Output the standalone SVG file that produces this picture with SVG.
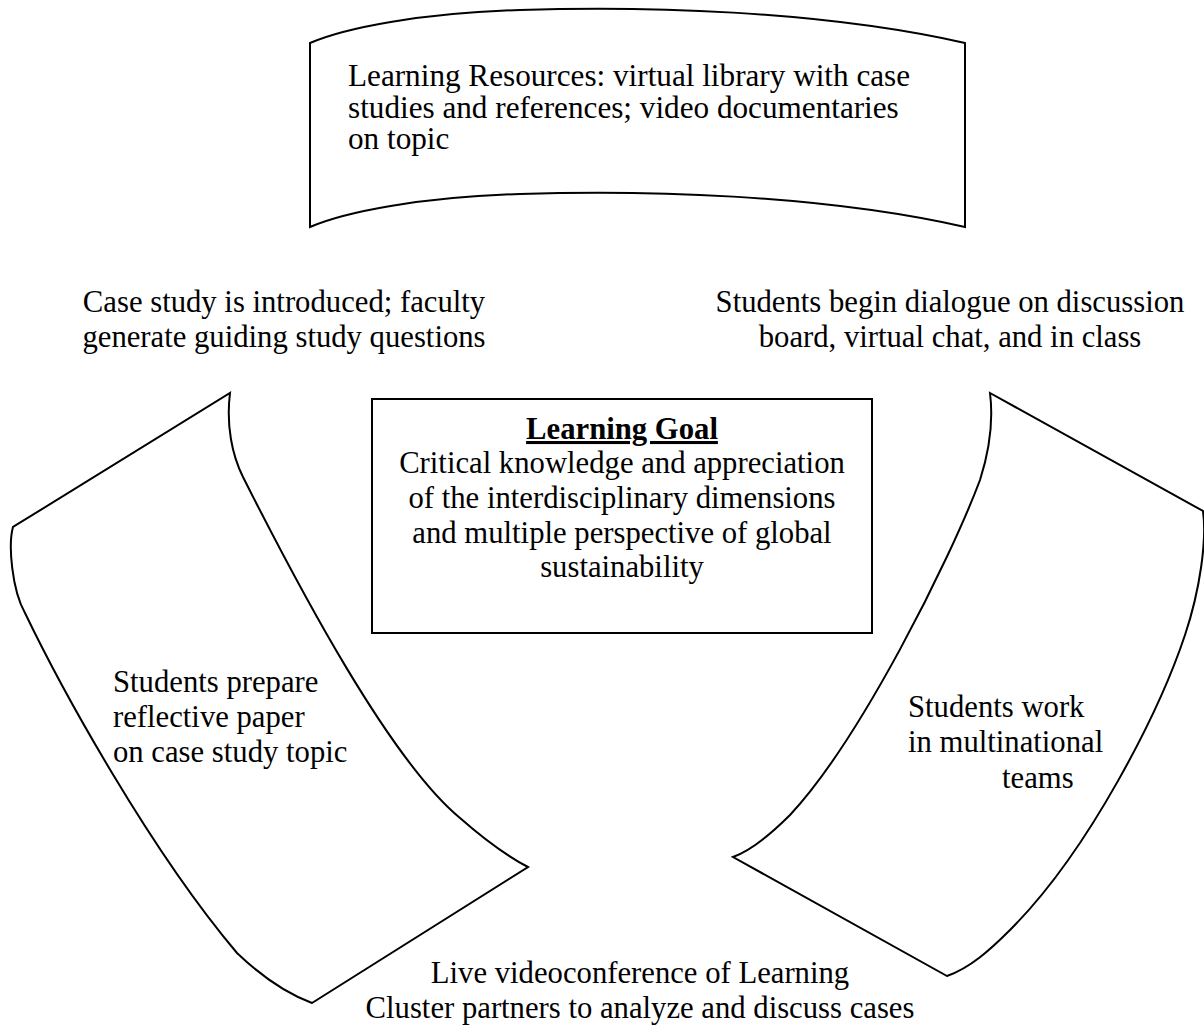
<svg xmlns="http://www.w3.org/2000/svg" width="1204" height="1025" viewBox="0 0 1204 1025">
  <style>
    .shape { fill: #ffffff; stroke: #000000; stroke-width: 2; stroke-linejoin: miter; }
    .txt { font-family: "Liberation Serif", "Times New Roman", serif; font-size: 30.7px; fill: #000000; }
    .big { font-size: 31.2px; }
    .mid { text-anchor: middle; }
    .title { font-weight: bold; text-decoration: underline; }
  </style>
  <rect x="0" y="0" width="1204" height="1025" fill="#ffffff"/>

  <!-- Learning resources banner (wave shape) -->
  <g id="resources">
    <path class="shape" d="M310,43 C345,28 420,13 520,10 C640,6 820,10 965,43 L965,227 C820,194 640,190 520,194 C420,197 345,212 310,227 Z"/>
    <text class="txt big" x="348" y="86">Learning Resources: virtual library with case</text>
    <text class="txt big" x="348" y="118">studies and references; video documentaries</text>
    <text class="txt big" x="348" y="149">on topic</text>
  </g>

  <!-- Step: case study introduced -->
  <g id="step-introduce">
    <text class="txt mid" x="284" y="312">Case study is introduced; faculty</text>
    <text class="txt mid" x="284" y="346.5">generate guiding study questions</text>
  </g>

  <!-- Step: dialogue -->
  <g id="step-dialogue">
    <text class="txt mid" x="950" y="312">Students begin dialogue on discussion</text>
    <text class="txt mid" x="950" y="346.5">board, virtual chat, and in class</text>
  </g>

  <!-- Central learning goal -->
  <g id="learning-goal">
    <rect class="shape" x="372" y="399" width="500" height="234"/>
    <text class="txt mid title" x="622" y="439">Learning Goal</text>
    <text class="txt mid" x="622" y="473">Critical knowledge and appreciation</text>
    <text class="txt mid" x="622" y="508">of the interdisciplinary dimensions</text>
    <text class="txt mid" x="622" y="543">and multiple perspective of global</text>
    <text class="txt mid" x="622" y="577">sustainability</text>
  </g>

  <!-- Left curved sheet: reflective paper -->
  <g id="step-reflect">
    <path class="shape" d="M230,393 C226,425 232,455 243,477 C300,590 390,760 460,818 C485,840 505,855 528,867 L312,1003 C285,993 260,975 237,953 C150,850 62,690 25,613 C12,590 8,545 13,527 Z"/>
    <text class="txt" x="113" y="692">Students prepare</text>
    <text class="txt" x="113" y="727">reflective paper</text>
    <text class="txt" x="113" y="762">on case study topic</text>
  </g>

  <!-- Right curved sheet: multinational teams -->
  <g id="step-teams">
    <path class="shape" d="M990,393 L1203,511 C1207,540 1200,590 1185,635 C1160,710 1090,850 1010,930 C990,950 970,968 947,976 L733,857 C752,850 770,835 790,815 C860,740 950,560 980,480 C988,455 994,425 990,393 Z"/>
    <text class="txt" x="908" y="717">Students work</text>
    <text class="txt" x="908" y="752">in multinational</text>
    <text class="txt" x="1002" y="788">teams</text>
  </g>

  <!-- Step: videoconference -->
  <g id="step-videoconference">
    <text class="txt mid" x="640" y="983">Live videoconference of Learning</text>
    <text class="txt mid" x="640" y="1018">Cluster partners to analyze and discuss cases</text>
  </g>

  <!-- The cycle is drawn by the sheet shapes themselves; no separate links -->
  <g id="connectors"/>
</svg>
